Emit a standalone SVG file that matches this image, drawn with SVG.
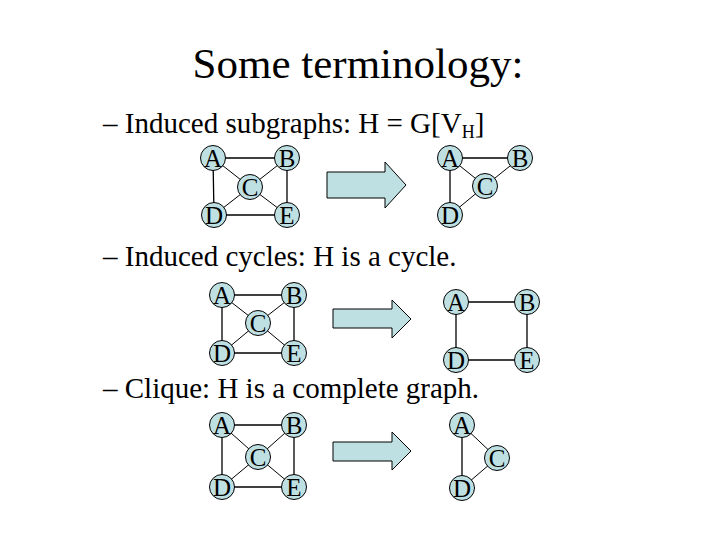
<svg xmlns="http://www.w3.org/2000/svg" width="720" height="540" viewBox="0 0 720 540">
<style>
.t{font-family:"Liberation Serif","Times New Roman",serif;fill:#000}
.title{font-size:43px}
.b{font-size:29px}
.n circle{fill:#bfe0e2;stroke:#000;stroke-width:1}
.n text{font-family:"Liberation Serif","Times New Roman",serif;font-size:25px;text-anchor:middle;fill:#000}
.e line{stroke:#000;stroke-width:1.3}
.e line.d{stroke-width:1}
.arr{fill:#bfe0e2;stroke:#000;stroke-width:1}
</style>
<rect width="720" height="540" fill="#fff"/>
<text class="t title" x="358" y="78" text-anchor="middle">Some terminology:</text>
<text class="t b" x="103" y="133">– Induced subgraphs: H = G[V<tspan font-size="18" dy="5">H</tspan><tspan dy="-5">]</tspan></text>
<text class="t b" x="103" y="266">– Induced cycles: H is a cycle.</text>
<text class="t b" x="103" y="398">– Clique: H is a complete graph.</text>

<g id="connectors" class="e">
<!-- graph 1 -->
<line x1="213" y1="158" x2="287" y2="158"/><line x1="213" y1="158" x2="214" y2="215"/>
<line x1="287" y1="158" x2="287" y2="215"/><line x1="214" y1="215" x2="287" y2="215"/>
<line class="d" x1="213" y1="158" x2="250" y2="187"/><line class="d" x1="287" y1="158" x2="250" y2="187"/>
<line class="d" x1="214" y1="215" x2="250" y2="187"/><line class="d" x1="287" y1="215" x2="250" y2="187"/>
<!-- graph 2 -->
<line x1="450" y1="158" x2="520" y2="158"/><line class="d" x1="450" y1="158" x2="485" y2="186"/>
<line class="d" x1="520" y1="158" x2="485" y2="186"/><line x1="450" y1="158" x2="450" y2="215"/>
<line class="d" x1="450" y1="215" x2="485" y2="186"/>
<!-- graph 3 -->
<line x1="222" y1="295" x2="294" y2="295"/><line x1="222" y1="295" x2="222" y2="353"/>
<line x1="294" y1="295" x2="294" y2="353"/><line x1="222" y1="353" x2="294" y2="353"/>
<line class="d" x1="222" y1="295" x2="258" y2="323"/><line class="d" x1="294" y1="295" x2="258" y2="323"/>
<line class="d" x1="222" y1="353" x2="258" y2="323"/><line class="d" x1="294" y1="353" x2="258" y2="323"/>
<!-- graph 4 -->
<line x1="456" y1="302" x2="527" y2="302"/><line x1="527" y1="302" x2="527" y2="360"/>
<line x1="527" y1="360" x2="456" y2="360"/><line x1="456" y1="360" x2="456" y2="302"/>
<!-- graph 5 -->
<line x1="222" y1="425" x2="294" y2="425"/><line x1="222" y1="425" x2="222" y2="487"/>
<line x1="294" y1="425" x2="294" y2="487"/><line x1="222" y1="487" x2="294" y2="487"/>
<line class="d" x1="222" y1="425" x2="258" y2="457"/><line class="d" x1="294" y1="425" x2="258" y2="457"/>
<line class="d" x1="222" y1="487" x2="258" y2="457"/><line class="d" x1="294" y1="487" x2="258" y2="457"/>
<!-- graph 6 -->
<line class="d" x1="462" y1="425" x2="497" y2="458"/><line x1="462" y1="425" x2="462" y2="488"/>
<line class="d" x1="462" y1="488" x2="497" y2="458"/>
</g>

<g id="arrows">
<polygon class="arr" points="327,172 385,172 385,162 406,185 385,208 385,198 327,198"/>
<polygon class="arr" points="333,309 392,309 392,300 411,319 392,338 392,328 333,328"/>
<polygon class="arr" points="333,442 392,442 392,432 411,451 392,470 392,461 333,461"/>
</g>

<g id="g1A" class="n"><circle cx="213" cy="158" r="12.5"/><text x="213" y="166.5">A</text></g>
<g id="g1B" class="n"><circle cx="287" cy="158" r="12.5"/><text x="287" y="166.5">B</text></g>
<g id="g1C" class="n"><circle cx="250" cy="187" r="12.5"/><text x="250" y="195.5">C</text></g>
<g id="g1D" class="n"><circle cx="214" cy="215" r="12.5"/><text x="214" y="223.5">D</text></g>
<g id="g1E" class="n"><circle cx="287" cy="215" r="12.5"/><text x="287" y="223.5">E</text></g>

<g id="g2A" class="n"><circle cx="450" cy="158" r="12.5"/><text x="450" y="166.5">A</text></g>
<g id="g2B" class="n"><circle cx="520" cy="158" r="12.5"/><text x="520" y="166.5">B</text></g>
<g id="g2C" class="n"><circle cx="485" cy="186" r="12.5"/><text x="485" y="194.5">C</text></g>
<g id="g2D" class="n"><circle cx="450" cy="215" r="12.5"/><text x="450" y="223.5">D</text></g>

<g id="g3A" class="n"><circle cx="222" cy="295" r="12.5"/><text x="222" y="303.5">A</text></g>
<g id="g3B" class="n"><circle cx="294" cy="295" r="12.5"/><text x="294" y="303.5">B</text></g>
<g id="g3C" class="n"><circle cx="258" cy="323" r="12.5"/><text x="258" y="331.5">C</text></g>
<g id="g3D" class="n"><circle cx="222" cy="353" r="12.5"/><text x="222" y="361.5">D</text></g>
<g id="g3E" class="n"><circle cx="294" cy="353" r="12.5"/><text x="294" y="361.5">E</text></g>

<g id="g4A" class="n"><circle cx="456" cy="302" r="12.5"/><text x="456" y="310.5">A</text></g>
<g id="g4B" class="n"><circle cx="527" cy="302" r="12.5"/><text x="527" y="310.5">B</text></g>
<g id="g4D" class="n"><circle cx="456" cy="360" r="12.5"/><text x="456" y="368.5">D</text></g>
<g id="g4E" class="n"><circle cx="527" cy="360" r="12.5"/><text x="527" y="368.5">E</text></g>

<g id="g5A" class="n"><circle cx="222" cy="425" r="12.5"/><text x="222" y="433.5">A</text></g>
<g id="g5B" class="n"><circle cx="294" cy="425" r="12.5"/><text x="294" y="433.5">B</text></g>
<g id="g5C" class="n"><circle cx="258" cy="457" r="12.5"/><text x="258" y="465.5">C</text></g>
<g id="g5D" class="n"><circle cx="222" cy="487" r="12.5"/><text x="222" y="495.5">D</text></g>
<g id="g5E" class="n"><circle cx="294" cy="487" r="12.5"/><text x="294" y="495.5">E</text></g>

<g id="g6A" class="n"><circle cx="462" cy="425" r="12.5"/><text x="462" y="433.5">A</text></g>
<g id="g6C" class="n"><circle cx="497" cy="458" r="12.5"/><text x="497" y="466.5">C</text></g>
<g id="g6D" class="n"><circle cx="462" cy="488" r="12.5"/><text x="462" y="496.5">D</text></g>
</svg>
